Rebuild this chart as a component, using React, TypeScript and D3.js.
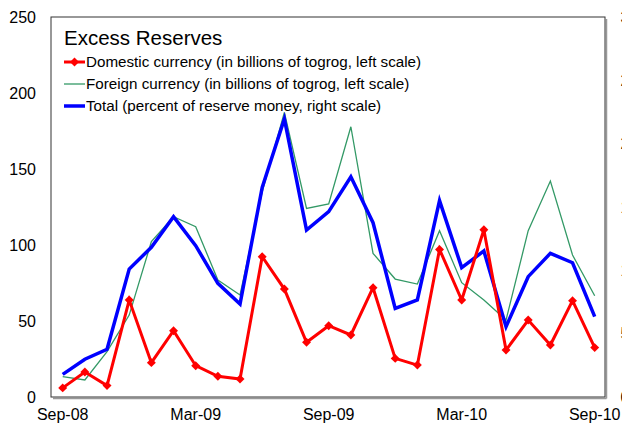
import React from "react";
import * as d3 from "d3";

const months = [
  "Sep-08","Oct-08","Nov-08","Dec-08","Jan-09","Feb-09","Mar-09","Apr-09","May-09","Jun-09","Jul-09","Aug-09",
  "Sep-09","Oct-09","Nov-09","Dec-09","Jan-10","Feb-10","Mar-10","Apr-10","May-10","Jun-10","Jul-10","Aug-10","Sep-10",
];
const domestic = [6, 16.4, 7.5, 63.8, 22.6, 43.6, 20.6, 13.6, 11.8, 92.3, 71, 36, 46.9, 40.8, 71.9, 25.4, 21, 97.1, 63.8, 110, 30.9, 50.6, 34.2, 63.4, 32.5];
const foreign = [13.4, 11.2, 29.8, 53.9, 102.2, 118.6, 112, 77, 67.1, 135, 187.3, 124.1, 127, 177.8, 94.5, 77.6, 74.3, 109.4, 75.2, 63.8, 50.6, 109.4, 142.1, 93.4, 66.6];
const total = [1.79, 2.98, 3.77, 10.1, 11.82, 14.24, 11.95, 8.97, 7.34, 16.55, 21.95, 13.18, 14.63, 17.39, 13.76, 7.0, 7.66, 15.5, 10.21, 11.53, 5.55, 9.5, 11.34, 10.6, 6.34];
const leftTicks = [0, 50, 100, 150, 200, 250];
const rightTicks = [0, 5, 10, 15, 20, 25, 30];
const xTickLabels = ["Sep-08", "Mar-09", "Sep-09", "Mar-10", "Sep-10"];

const legendItems = [
  { label: "Domestic currency (in billions of togrog, left scale)", color: "#ff0000", width: 3, marker: true },
  { label: "Foreign currency (in billions of togrog, left scale)", color: "#339966", width: 1.3, marker: false },
  { label: "Total (percent of reserve money, right scale)", color: "#0000ff", width: 3.5, marker: false },
];

const W = 622, H = 429;
const plot = { left: 51, right: 605, top: 17, bottom: 397 };
const FONT = "'Liberation Sans', Arial, sans-serif";

export default function App() {
  const x = d3.scalePoint<string>().domain(months).range([62.7, 594.7]);
  const yL = d3.scaleLinear().domain([0, 250]).range([plot.bottom, plot.top]);
  const yR = d3.scaleLinear().domain([0, 30]).range([plot.bottom, plot.top]);

  const lineL = d3.line<number>().x((_, i) => x(months[i])!).y((d) => yL(d));
  const lineR = d3.line<number>().x((_, i) => x(months[i])!).y((d) => yR(d));
  const diamond = d3.symbol().type(d3.symbolSquare).size(40)();

  return (
    <svg width={W} height={H} style={{ position: "fixed", left: 0, top: 0, background: "#fff" }} fontFamily={FONT}>
      <rect x={0} y={0} width={W} height={H} fill="#fff" />
      {/* plot frame with shadow */}
      <line x1={plot.left + 2} x2={plot.right + 1.5} y1={plot.bottom + 1.5} y2={plot.bottom + 1.5} stroke="#999" strokeWidth={1.5} />
      <line x1={plot.right + 1.5} x2={plot.right + 1.5} y1={plot.top + 2} y2={plot.bottom + 1.5} stroke="#999" strokeWidth={1.5} />
      <rect x={plot.left} y={plot.top} width={plot.right - plot.left} height={plot.bottom - plot.top} fill="none" stroke="#333" strokeWidth={1} />

      {leftTicks.map((t) => (
        <text key={"l" + t} x={36} y={yL(t)} dy="0.35em" textAnchor="end" fontSize={16} fill="#000">{t}</text>
      ))}
      {rightTicks.map((t) => (
        <text key={"r" + t} x={620.5} y={yR(t)} dy="0.35em" textAnchor="start" fontSize={16} fill="#000">{t}</text>
      ))}
      {xTickLabels.map((m) => (
        <text key={m} x={x(m)!} y={420} textAnchor="middle" fontSize={16} fill="#000">{m}</text>
      ))}

      <path d={lineL(foreign)!} fill="none" stroke="#339966" strokeWidth={1.3} />
      <path d={lineR(total)!} fill="none" stroke="#0000ff" strokeWidth={3.5} strokeLinejoin="miter" />
      <path d={lineL(domestic)!} fill="none" stroke="#ff0000" strokeWidth={3} />
      {domestic.map((d, i) => (
        <path key={"m" + i} d={diamond!} transform={`translate(${x(months[i])},${yL(d)}) rotate(45)`} fill="#ff0000" />
      ))}

      <text x={64} y={45} fontSize={20.5} fill="#000">Excess Reserves</text>
      {legendItems.map((it, i) => {
        const cy = 62 + i * 22;
        return (
          <g key={it.label}>
            <line x1={64} x2={85} y1={cy} y2={cy} stroke={it.color} strokeWidth={it.width} />
            {it.marker && <path d={diamond!} transform={`translate(74.5,${cy}) rotate(45)`} fill={it.color} />}
            <text x={86} y={cy} dy="0.35em" fontSize={15.2} fill="#000">{it.label}</text>
          </g>
        );
      })}
    </svg>
  );
}
